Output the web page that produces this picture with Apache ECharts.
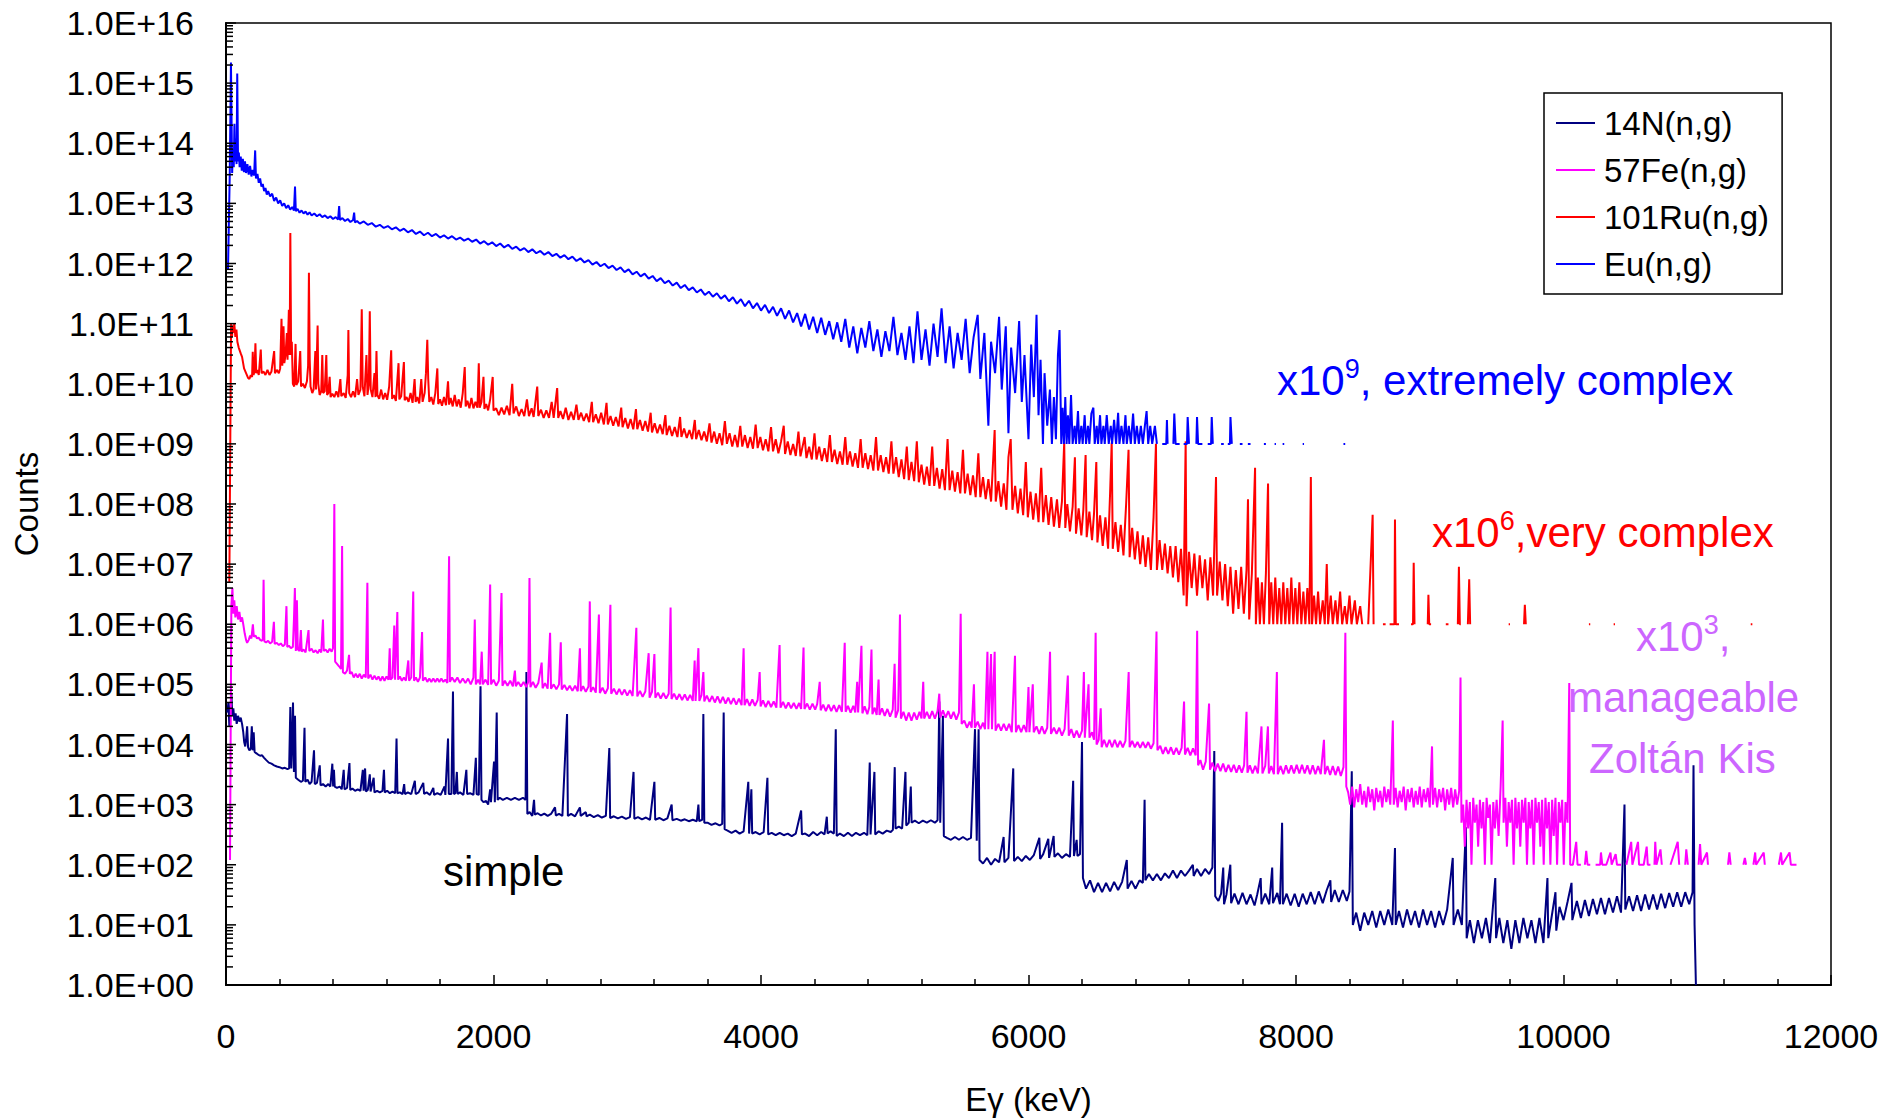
<!DOCTYPE html>
<html><head><meta charset="utf-8">
<script src="https://cdn.jsdelivr.net/npm/echarts@6/dist/echarts.min.js"></script>
<style>html,body{margin:0;padding:0;background:#fff}#c{width:1885px;height:1120px}</style>
</head><body><div id="c"></div>
<script>
const seriesNames = ['14N(n,g)', '57Fe(n,g)', '101Ru(n,g)', 'Eu(n,g)'];
const seriesColors = ['#000080', '#ff00ff', '#ff0000', '#0000ff'];
const xTickLabels = ['0', '2000', '4000', '6000', '8000', '10000', '12000'];
const yTickValues = [1e0,1e1,1e2,1e3,1e4,1e5,1e6,1e7,1e8,1e9,1e10,1e11,1e12,1e13,1e14,1e15,1e16];
const yTickLabels = ['1.0E+00','1.0E+01','1.0E+02','1.0E+03','1.0E+04','1.0E+05','1.0E+06','1.0E+07','1.0E+08','1.0E+09','1.0E+10','1.0E+11','1.0E+12','1.0E+13','1.0E+14','1.0E+15','1.0E+16'];
const logMinorMultipliers = [2, 3, 4, 5, 6, 7, 8, 9];

// Eu(n,g) x1e9  [energy keV, counts]
const euSpectrum = [
[15,8e11],[28,3e13],[37,2.2e15],[46,3.2e13],[52,8e13],[58,4e13],[63,2.1e14],[68,5e13],[74,1.2e14],[79,4.5e13],[84,1.45e15],[90,5e13],[96,7e13],[102,4e13],[110,6e13],[118,3.5e13],[126,5.5e13],[134,3.3e13],[142,5e13],[150,3.2e13],[160,4.5e13],[170,3e13],[180,4.2e13],[190,2.8e13],[200,3.6e13],[210,2.9e13],[218,7.6e13],[224,2.6e13],[235,3.1e13],[245,2.2e13],[255,2.6e13],[265,1.9e13],[275,2.1e13],[285,1.6e13],[295,1.8e13],[305,1.4e13],[315,1.6e13],[330,1.3e13],[345,1.45e13],[360,1.1e13],[375,1.25e13],[390,1e13],[405,1.12e13],[420,9.1e12],[435,1e13],[450,8.3e12],[465,9.3e12],[480,7.9e12],[495,8.7e12],[508,7.6e12],[516,1.9e13],[522,7.4e12],[535,8.1e12],[550,7e12],[565,7.6e12],[580,6.8e12],[595,7.3e12],[610,6.5e12],[625,7.1e12],[640,6.3e12],[660,6.8e12],[680,6.1e12],[700,6.6e12],[720,5.9e12],[740,6.3e12],[760,5.7e12],[780,6.1e12],[800,5.5e12],[820,5.9e12],[838,5.4e12],[846,9e12],[852,5.3e12],[870,5.7e12],[890,5.1e12],[910,5.5e12],[930,4.9e12],[950,5.3e12],[958,7e12],[964,4.8e12],[980,5.1e12],[1000,4.6e12],[1030,5e12],[1060,4.4e12],[1090,4.7e12],[1120,4.1e12],[1150,4.4e12],[1180,3.9e12],[1210,4.2e12],[1240,3.7e12],[1270,4e12],[1300,3.5e12],[1330,3.8e12],[1360,3.3e12],[1390,3.6e12],[1420,3.1e12],[1450,3.4e12],[1480,2.95e12],[1510,3.25e12],[1540,2.85e12],[1570,3.1e12],[1600,2.7e12],[1630,2.95e12],[1660,2.6e12],[1690,2.85e12],[1720,2.5e12],[1750,2.7e12],[1780,2.4e12],[1810,2.6e12],[1840,2.3e12],[1870,2.5e12],[1900,2.15e12],[1930,2.35e12],[1960,2.05e12],[1990,2.25e12],[2020,1.95e12],[2050,2.15e12],[2080,1.85e12],[2110,2.05e12],[2140,1.75e12],[2170,1.9e12],[2200,1.65e12],[2230,1.8e12],[2260,1.55e12],[2290,1.72e12],[2320,1.48e12],[2350,1.62e12],[2380,1.4e12],[2410,1.55e12],[2440,1.33e12],[2470,1.45e12],[2500,1.25e12],[2530,1.38e12],[2560,1.18e12],[2590,1.3e12],[2620,1.1e12],[2650,1.22e12],[2680,1.04e12],[2710,1.14e12],[2740,9.6e11],[2770,1.06e12],[2800,9e11],[2830,9.9e11],[2860,8.4e11],[2890,9.2e11],[2920,7.8e11],[2950,8.6e11],[2980,7.2e11],[3010,8e11],[3040,6.6e11],[3070,7.3e11],[3100,6.1e11],[3130,6.8e11],[3160,5.6e11],[3190,6.2e11],[3220,5.1e11],[3250,5.7e11],[3280,4.7e11],[3310,5.2e11],[3340,4.3e11],[3370,4.8e11],[3400,3.9e11],[3430,4.4e11],[3460,3.6e11],[3490,4e11],[3520,3.3e11],[3550,3.7e11],[3580,3e11],[3610,3.4e11],[3640,2.8e11],[3670,3.2e11],[3700,2.6e11],[3730,2.95e11],[3760,2.35e11],[3790,2.75e11],[3820,2.15e11],[3850,2.55e11],[3880,1.95e11],[3910,2.4e11],[3940,1.8e11],[3970,2.2e11],[4000,1.65e11],[4030,2.05e11],[4060,1.5e11],[4090,1.9e11],[4120,1.35e11],[4150,1.8e11],[4180,1.2e11],[4210,1.65e11],[4240,1.05e11],[4270,1.5e11],[4300,9e10],[4330,1.45e11],[4360,8e10],[4390,1.3e11],[4420,7e10],[4450,1.25e11],[4480,6.5e10],[4510,1.1e11],[4540,5.5e10],[4570,1.05e11],[4600,5e10],[4630,1.2e11],[4660,4e10],[4690,9e10],[4720,3.2e10],[4750,8.5e10],[4780,4e10],[4810,1.1e11],[4840,3.5e10],[4870,8e10],[4900,2.8e10],[4930,7.5e10],[4960,3.5e10],[4990,1.3e11],[5020,3e10],[5050,7e10],[5080,2.5e10],[5110,9e10],[5140,2.2e10],[5170,1.6e11],[5200,2.5e10],[5230,8e10],[5260,2e10],[5290,1e11],[5320,2.8e10],[5350,1.8e11],[5380,2.2e10],[5410,9e10],[5440,1.8e10],[5470,7e10],[5500,2.5e10],[5530,1.2e11],[5560,1.5e10],[5590,6e10],[5620,1.4e11],[5640,1.2e10],[5670,7e10],[5700,2e9],[5720,5e10],[5750,1.5e10],[5780,1.3e11],[5800,8e9],[5830,9e10],[5850,1.5e9],[5870,4e10],[5900,7e9],[5930,1.1e11],[5950,5e9],[5970,3e10],[6000,1.2e9],[6020,4.5e10],[6040,6e9],[6060,1.4e11],[6075,3e9],[6090,2.5e10],[6108,1e9],[6120,1.5e10],[6140,2e9],[6160,8e9],[6175,1e9],[6190,6e9],[6205,1.2e9],[6220,3e10],[6232,7.8e10],[6245,1e9],
[6255,4e9],[6265,1e9],[6275,6e9],[6285,1e9],[6295,3e9],[6305,1e9],[6318,6.5e9],[6330,1e9],[6345,2e9],[6355,1e9],[6370,3.5e9],[6380,1e9],[6395,2e9],[6405,1e9],[6420,3e9],[6430,1e9],[6445,2e9],[6455,1e9],[6470,3.2e9],[6485,4e9],[6495,1e9],[6510,2e9],[6520,1e9],[6535,3e9],[6545,1e9],[6560,2e9],[6570,1e9],[6585,3e9],[6600,1e9],[6615,2e9],[6625,1e9],[6640,2.5e9],[6655,1e9],[6670,3.3e9],[6680,1e9],[6695,2e9],[6710,1e9],[6725,3e9],[6735,1e9],[6750,2e9],[6765,1e9],[6782,3.2e9],[6795,1e9],[6810,2e9],[6825,1e9],[6840,2e9],[6855,1e9],[6870,2e9],[6883,3.5e9],[6895,1e9],[6910,2e9],[6925,1e9],[6945,2e9],[6960,1e9],
[6975,null],[7000,1e9],[7030,1e9],[7035,2.5e9],[7040,1e9],[7060,null],[7083,1e9],[7090,3.2e9],[7100,1e9],[7130,1e9],[7140,null],[7160,1e9],[7185,1e9],[7190,2.8e9],[7200,1e9],[7230,null],[7255,1e9],[7260,2.8e9],[7268,1e9],[7300,1e9],[7310,null],[7340,1e9],[7365,1e9],[7370,2.8e9],[7378,1e9],[7400,null],[7440,1e9],[7460,1e9],[7470,null],[7490,1e9],[7506,1e9],[7510,2.8e9],[7520,1e9],[7535,null],[7580,1e9],[7600,1e9],[7610,null],[7640,1e9],[7660,1e9],[7670,null],[7760,1e9],[7775,1e9],[7785,null],[7840,1e9],[7850,1e9],[7860,null],[7900,1e9],[7912,1e9],[7920,null],[8050,1e9],[8060,1e9],[8070,null],[8355,1e9],[8368,1e9]
];

// 101Ru(n,g) x1e6
const ru101Spectrum = [
[25,5e6],[38,1e11],[45,6e10],[50,9.3e10],[56,7e10],[62,1e11],[70,6e10],[78,8e10],[85,5e10],[95,4e10],[110,3.2e10],[120,2.8e10],[135,1.8e10],[150,1.5e10],[165,1.25e10],[175,1.2e10],[185,1.4e10],[195,1.3e10],[200,3.4e10],[206,1.4e10],[213,1.6e10],[220,4.7e10],[226,1.5e10],[235,1.7e10],[245,1.4e10],[260,3.7e10],[266,1.5e10],[280,1.6e10],[295,1.4e10],[310,1.7e10],[325,1.4e10],[340,1.6e10],[360,3.5e10],[366,1.5e10],[380,1.7e10],[395,1.5e10],[405,1.8e10],[415,1.2e11],[421,2e10],[430,9e10],[436,2.2e10],[445,3e10],[455,7e10],[460,2.5e10],[470,1.7e11],[476,3e10],[481,3.2e12],[487,3e10],[492,5e10],[500,1e10],[510,9e9],[520,4.6e10],[526,9.5e9],[540,1.1e10],[555,3.5e10],[561,9e9],[575,1e10],[590,8.5e9],[605,1.1e10],[614,2e10],[620,7e11],[626,2.5e10],[632,9e9],[645,7e9],[655,8e9],[668,3.5e10],[673,8e9],[685,9.3e10],[690,1e10],[700,6.5e9],[712,7.5e9],[720,3e10],[726,7e9],[738,7.5e9],[750,3e10],[756,6.5e9],[765,7e9],[775,1.3e10],[782,6e9],[795,6.8e9],
[810,6e9],[825,7.5e9],[840,6e9],[855,1.2e10],[862,6.2e9],[880,7e9],[895,5.8e9],[910,1.4e10],[915,7.8e10],[921,7e9],[935,6e9],[950,7.5e9],[965,6e9],[980,1.2e10],[990,6.5e9],[1005,8e9],[1015,1.74e11],[1022,9e9],[1035,6.2e9],[1050,3e10],[1058,6.5e9],[1068,1e10],[1075,1.6e11],[1082,8e9],[1095,6e9],[1110,1.5e10],[1118,6e9],[1125,3.5e10],[1132,6.5e9],[1145,5.6e9],[1160,8e9],[1175,5.5e9],[1190,7e9],[1205,5.4e9],[1220,9e9],[1235,3.6e10],[1242,5.6e9],[1255,6.5e9],[1270,5.2e9],[1290,2.2e10],[1296,5.5e9],[1310,6.2e9],[1330,2.3e10],[1336,5.3e9],[1350,6e9],[1365,5e9],[1380,7e9],[1395,4.8e9],[1410,1.2e10],[1418,5e9],[1430,6e9],[1445,4.7e9],[1460,1.2e10],[1470,5e9],[1485,7e9],[1495,1.5e10],[1505,5.4e10],[1512,1.2e10],[1520,5e9],[1535,6e9],[1550,4.5e9],[1565,7e9],[1580,1.8e10],[1587,4.6e9],[1600,5.5e9],[1615,4.3e9],[1630,6e9],[1645,4.4e9],[1660,1.1e10],[1668,4.5e9],[1680,5.8e9],[1695,4.2e9],[1710,6.5e9],[1725,4.2e9],[1740,5.5e9],[1755,4e9],[1770,7e9],[1785,1.9e10],[1792,4.2e9],[1805,5.2e9],[1820,3.9e9],[1835,5.8e9],[1850,3.9e9],[1865,5e9],[1880,4e9],[1890,2.2e10],[1897,4e9],[1910,5e9],[1925,1.3e10],[1932,3.8e9],[1945,4.6e9],[1960,3.6e9],[1975,5.5e9],[1994,1.3e10],[2000,3.6e9],
[2020,3.9e9],[2040,3e9],[2060,4e9],[2080,3.1e9],[2100,4.3e9],[2120,3e9],[2140,1e10],[2150,3.2e9],[2170,4.2e9],[2190,2.9e9],[2210,3.8e9],[2230,2.9e9],[2250,5.5e9],[2265,2.9e9],[2285,3.9e9],[2300,2.8e9],[2327,9e9],[2335,2.9e9],[2355,3.7e9],[2375,2.7e9],[2395,3.6e9],[2415,2.7e9],[2435,5e9],[2450,2.7e9],[2476,8.5e9],[2484,2.7e9],[2500,3.5e9],[2520,2.6e9],[2540,4e9],[2560,2.5e9],[2580,3.4e9],[2600,2.5e9],[2620,4.5e9],[2635,2.5e9],[2655,3.3e9],[2675,2.4e9],[2695,3.2e9],[2715,2.3e9],[2735,5e9],[2745,2.3e9],[2765,3.1e9],[2785,2.2e9],[2805,3.3e9],[2825,2.1e9],[2845,4.8e9],[2855,2.1e9],[2875,2.9e9],[2895,2e9],[2915,2.8e9],[2935,1.95e9],[2955,4e9],[2965,1.9e9],[2985,2.7e9],[3005,1.8e9],[3025,2.6e9],[3045,1.75e9],[3065,3.8e9],[3075,1.75e9],[3095,2.5e9],[3115,1.65e9],[3135,2.4e9],[3155,1.6e9],[3175,3.3e9],[3185,1.55e9],[3205,2.2e9],[3225,1.5e9],[3245,2.1e9],[3265,1.45e9],[3285,3e9],[3295,1.4e9],[3315,2e9],[3335,1.35e9],[3355,1.9e9],[3375,1.3e9],[3395,2.8e9],[3405,1.3e9],[3425,1.8e9],[3445,1.25e9],[3465,1.7e9],[3485,1.2e9],[3505,2.5e9],[3515,1.2e9],[3535,1.7e9],[3555,1.15e9],[3575,1.6e9],[3595,1.1e9],
[3615,2.2e9],[3630,1.05e9],[3650,1.6e9],[3670,1e9],[3690,1.5e9],[3710,9.5e8],[3730,2.4e9],[3745,1e9],[3765,1.5e9],[3785,9e8],[3805,1.4e9],[3825,8.8e8],[3845,2e9],[3860,9e8],[3880,1.4e9],[3900,8.5e8],[3920,1.3e9],[3940,8.3e8],[3960,2.1e9],[3975,8.5e8],[3995,1.3e9],[4015,7.8e8],[4035,1.2e9],[4055,7.5e8],[4075,1.9e9],[4090,7.5e8],[4110,1.2e9],[4130,7e8],[4150,1.1e9],[4170,2e9],[4180,6.8e8],[4200,1.1e9],[4220,6.5e8],[4240,1e9],[4260,6.3e8],[4280,1.6e9],[4295,6.2e8],[4315,1e9],[4326,1.3e9],[4340,5.8e8],[4360,9e8],[4380,5.5e8],[4400,1.5e9],[4415,5.5e8],[4435,9e8],[4455,5.2e8],[4475,8.5e8],[4495,5e8],[4515,1.4e9],[4530,5e8],[4550,8e8],[4570,4.6e8],[4590,7.5e8],[4610,4.5e8],[4630,1.3e9],[4645,4.5e8],[4665,7.5e8],[4685,4.2e8],[4705,7e8],[4725,4e8],[4745,1.2e9],[4760,4e8],[4780,7e8],[4800,3.8e8],[4820,6.5e8],[4840,3.6e8],[4860,1.3e9],[4875,3.6e8],[4895,6.5e8],[4915,3.4e8],[4935,6e8],[4955,3.2e8],[4975,1.1e9],[4990,3.2e8],
[5010,6e8],[5030,2.8e8],[5050,5.5e8],[5070,2.6e8],[5090,9e8],[5105,2.5e8],[5125,5e8],[5145,2.4e8],[5165,1.1e9],[5180,2.3e8],[5200,4.5e8],[5220,2.1e8],[5240,4.2e8],[5260,2e8],[5280,9e8],[5295,2e8],[5315,4e8],[5335,1.8e8],[5355,3.8e8],[5375,1.7e8],[5395,1.2e9],[5410,1.7e8],[5430,3.6e8],[5450,1.6e8],[5470,3.4e8],[5490,1.5e8],[5510,8e8],[5525,1.5e8],[5545,3.2e8],[5565,1.4e8],[5585,3e8],[5605,1.3e8],[5625,7e8],[5640,1.3e8],[5660,2.8e8],[5680,1.2e8],[5700,2.6e8],[5720,1.1e8],[5747,1.7e9],[5755,1.1e8],[5775,2.4e8],[5795,9e7],[5815,2.2e8],[5835,8e7],[5850,6e8],[5867,1.2e9],[5880,8e7],[5900,2e8],[5920,7e7],[5940,1.8e8],[5960,6.5e7],[5980,5e8],[5995,6e7],[6015,1.6e8],[6035,5.5e7],[6055,1.5e8],[6075,5e7],[6095,4e8],[6110,5e7],[6130,1.4e8],[6150,4.5e7],[6170,1.3e8],[6190,4.2e7],[6213,1.2e8],[6230,4e7],[6250,1.1e8],[6267,1.05e9],[6275,4e7],
[6290,1e8],[6310,3.5e7],[6330,9e7],[6347,6e8],[6355,3.2e7],[6375,8.5e7],[6395,3e7],[6410,8e7],[6427,6.5e8],[6435,2.8e7],[6455,7.5e7],[6475,2.5e7],[6490,7e7],[6507,5e8],[6515,2.3e7],[6535,6.5e7],[6555,2e7],[6575,6e7],[6595,1.8e7],[6610,1.5e8],[6622,1.05e9],[6630,1.8e7],[6650,5e7],[6670,1.6e7],[6690,4.5e7],[6710,1.4e7],[6730,1e8],[6748,8e8],[6756,1.3e7],[6775,4e7],[6795,1.2e7],[6815,3.5e7],[6835,1e7],[6855,3e7],[6875,9e6],[6895,2.8e7],[6915,8e6],[6935,6e7],[6953,1e9],[6960,8e6],[6980,2.5e7],[7000,8e6],[7020,2.2e7],[7040,7e6],[7060,2e7],[7080,6e6],[7100,2e7],[7120,5e6],[7140,1.8e7],[7160,3e6],[7175,1.1e9],[7182,2e6],[7200,1.6e7],
[7220,4e6],[7240,1.5e7],[7260,3e6],[7280,1.4e7],[7300,4e6],[7320,1.2e7],[7340,2.5e6],[7360,1.3e7],[7380,3e6],[7402,2.8e8],[7410,3e6],[7430,1.1e7],[7450,2.5e6],[7470,1e7],[7490,2e6],[7510,9e6],[7530,1.5e6],[7550,8e6],[7570,1.8e6],[7590,9e6],[7610,1.5e6],[7630,8e6],[7641,1.2e8],[7650,1.2e6],[7670,7e6],[7694,4e8],[7700,1e6],
[7715,6e6],[7730,1e6],[7745,5e6],[7760,1e6],[7775,7e6],[7791,2.2e8],[7800,1e6],[7815,5e6],[7830,1e6],[7845,6e6],[7860,1e6],[7875,4e6],[7890,1e6],[7905,5e6],[7920,1e6],[7935,4e6],[7950,1e6],[7965,6e6],[7980,1e6],[7995,4e6],[8010,1e6],[8025,5e6],[8040,1e6],[8055,3.5e6],[8070,1e6],[8085,4e6],[8100,1e6],[8111,2.8e8],[8120,1e6],
[8135,3e6],[8150,1e6],[8165,3.5e6],[8180,1e6],[8200,2.5e6],[8215,1e6],[8230,1e7],[8240,1e6],[8260,3e6],[8275,1e6],[8295,2.5e6],[8310,1e6],[8330,3.5e6],[8345,1e6],[8365,2e6],[8380,1e6],[8400,3e6],[8415,1e6],[8440,2.5e6],[8455,1e6],[8480,2e6],[8495,1e6],[8520,null],[8540,1e6],[8573,6.6e7],[8580,1e6],[8600,null],
[8650,1e6],[8670,1e6],[8680,null],[8700,1e6],[8736,1e6],[8740,5.5e7],[8746,1e6],[8770,1e6],[8780,null],[8860,1e6],[8875,1e6],[8880,1.05e7],[8886,1e6],[8900,null],[8985,1e6],[8990,3.1e6],[8996,1e6],[9010,1e6],[9020,null],[9120,1e6],[9140,1e6],[9150,null],[9210,1e6],[9218,9e6],[9225,1e6],[9232,1e6],[9240,null],[9285,1e6],[9295,5.6e6],[9302,1e6],[9310,null],[9590,1e6],[9600,1e6],[9610,null],[9705,1e6],[9711,2.1e6],[9718,1e6],[9725,null],[10190,1e6],[10200,1e6],[10210,null],[10375,1e6],[10385,1e6],[10395,null],[11400,1e6],[11412,1e6]
];

// 57Fe(n,g) x1e3
const fe57Spectrum = [
[30,1.2e2],[40,2e6],[48,4e6],[55,1.5e6],[62,2.5e6],[70,1.3e6],[80,2e6],[90,1.2e6],[100,1.6e6],[110,1.1e6],[120,1.3e6],[129,1e6],[140,7e5],[150,5.5e5],[158,4.9e5],[170,5.5e5],[180,6.5e5],[190,5.8e5],[201,1e6],[208,6.2e5],[220,6.5e5],[232,5.8e5],[244,6e5],[255,5.5e5],[268,5.3e5],[275,5.6e5],[281,5.5e6],[287,5.2e5],[300,5e5],[315,5.3e5],[330,4.8e5],[345,5.1e5],[358,1.1e6],[364,4.7e5],[380,4.9e5],[395,4.5e5],[410,4.8e5],[425,4.3e5],[440,4.6e5],[452,2e6],[458,4.2e5],[470,4.4e5],[485,4e5],[500,4.2e5],[508,1.2e6],[515,4e6],[522,3.6e5],[530,2.5e6],[537,3.8e5],[550,3.6e5],[560,8e5],[566,3.5e5],[580,3.8e5],[595,3.4e5],[617,8e5],[623,3.6e5],[640,3.9e5],[655,3.4e5],[670,3.7e5],[685,3.3e5],[700,3.8e5],[712,3.4e5],[725,1.2e6],[731,3.6e5],[745,3.8e5],[760,3.4e5],[775,3.9e5],[790,3.5e5],[800,4e5],[810,1e8],[816,2.4e5],[830,2.2e5],[845,2e5],[860,1.8e5],[868,2e7],[874,1.6e5],[890,1.5e5],[905,1.7e5],[920,3.1e5],[926,1.5e5],[940,1.6e5],[955,1.3e5],[970,1.5e5],[985,1.3e5],[1000,1.5e5],[1015,1.25e5],[1030,1.45e5],[1045,1.3e5],[1057,4.9e6],[1063,1.25e5],[1080,1.45e5],[1095,1.2e5],[1110,1.4e5],[1125,1.2e5],[1140,1.35e5],[1155,1.15e5],[1170,1.35e5],[1185,1.15e5],[1200,1.35e5],[1215,1.2e5],[1224,4e5],[1230,1.2e5],[1245,1.3e5],[1258,9.5e5],[1264,1.2e5],[1281,1.6e6],[1287,1.2e5],[1300,1.35e5],[1315,1.15e5],[1330,1.3e5],[1345,1.15e5],[1363,2.5e5],[1369,1.15e5],[1385,1.3e5],[1400,3.5e6],[1406,1.15e5],[1420,1.3e5],[1435,1.1e5],[1450,1.3e5],[1466,7.4e5],[1472,1.15e5],[1490,1.3e5],[1505,1.1e5],[1520,1.25e5],[1535,1.1e5],[1550,1.25e5],[1565,1.1e5],[1580,1.25e5],[1595,1.1e5],[1610,1.25e5],[1625,1.1e5],[1640,1.2e5],[1655,1.05e5],[1668,1.35e7],[1674,1.1e5],
[1690,1.3e5],[1710,1.1e5],[1730,1.3e5],[1750,1.05e5],[1770,1.25e5],[1790,1.05e5],[1810,1.25e5],[1830,1e5],[1850,1.3e5],[1860,1.2e6],[1868,1e5],[1885,1.2e5],[1900,1e5],[1912,3.5e5],[1920,1e5],[1940,1.2e5],[1960,9.8e4],[1975,4.6e6],[1982,1e5],[2000,1.2e5],[2020,9.5e4],[2040,1.15e5],[2060,3.3e6],[2067,9.5e4],[2085,1.15e5],[2105,9.5e4],[2125,1.15e5],[2145,9.3e4],[2160,1.7e5],[2167,9.3e4],[2185,1.1e5],[2205,9.2e4],[2225,1.1e5],[2245,9e4],[2260,1.1e5],[2269,5.9e6],[2276,9e4],[2295,1.1e5],[2315,8.8e4],[2335,1.05e5],[2360,2.3e5],[2367,8.6e4],[2385,1.05e5],[2405,8.5e4],[2423,7.2e5],[2430,8.5e4],[2450,1e5],[2470,8.3e4],[2490,1e5],[2503,5e5],[2510,8.2e4],[2530,9.8e4],[2550,8e4],[2570,9.5e4],[2590,7.8e4],[2610,9.5e4],[2630,7.7e4],[2646,4e5],[2653,7.7e4],[2670,9.3e4],[2690,7.5e4],[2710,9.2e4],[2720,2.4e6],[2727,7.5e4],[2745,9e4],[2765,7.3e4],[2788,1.45e6],[2795,7.2e4],[2815,8.8e4],[2835,7e4],[2855,8.6e4],[2874,2.1e6],[2880,7e4],[2900,8.5e4],[2920,6.8e4],[2940,8.4e4],[2960,6.7e4],[2980,8.2e4],[3000,6.5e4],[3020,8e4],[3040,6.4e4],[3068,8.7e5],[3075,6.3e4],[3095,7.8e4],[3115,6.2e4],[3135,7.6e4],[3160,3.3e5],[3167,6e4],[3185,7.5e4],[3203,3.2e5],[3210,6e4],[3230,7.3e4],[3250,5.8e4],[3270,7.2e4],[3290,5.8e4],[3310,7e4],[3324,1.9e6],[3331,5.7e4],[3350,7e4],[3370,5.6e4],[3390,6.9e4],[3410,5.5e4],[3430,6.8e4],[3450,5.4e4],[3470,6.7e4],[3490,5.3e4],[3504,2.5e5],[3511,5.3e4],[3532,4e5],[3539,5.3e4],[3555,6.6e4],[3569,1.6e5],[3576,5.2e4],[3595,6.5e4],[3615,5.1e4],[3635,6.4e4],[3655,5e4],[3675,6.3e4],[3695,4.9e4],[3715,6.2e4],[3735,4.8e4],[3755,6e4],[3775,4.7e4],[3795,5.9e4],[3815,4.6e4],[3835,5.8e4],[3855,4.5e4],[3870,4e5],[3877,4.5e4],[3895,5.7e4],[3915,4.4e4],[3935,5.6e4],[3955,4.4e4],[3975,5.5e4],[3990,1.6e5],[3997,4.3e4],[4015,5.4e4],[4035,4.2e4],[4055,5.3e4],[4075,4.2e4],[4095,5.2e4],[4115,4.1e4],[4139,4.5e5],[4146,4.1e4],[4165,5.1e4],[4185,4e4],[4205,5e4],[4225,4e4],[4245,4.9e4],[4265,3.9e4],[4285,4.9e4],[4300,3.9e4],[4318,4.1e5],[4325,3.9e4],[4345,4.8e4],[4365,3.8e4],[4385,4.8e4],[4405,3.8e4],[4420,4.7e4],[4439,1.1e5],[4446,3.7e4],
[4465,4.6e4],[4485,3.6e4],[4505,4.6e4],[4525,3.6e4],[4545,4.5e4],[4565,3.5e4],[4585,4.5e4],[4605,3.5e4],[4626,4.9e5],[4633,3.5e4],[4650,4.4e4],[4670,3.4e4],[4690,4.4e4],[4705,3.4e4],[4719,1.1e5],[4726,3.4e4],[4751,4.4e5],[4758,3.3e4],[4775,4.3e4],[4795,3.2e4],[4810,4.2e4],[4826,3.8e5],[4833,3.2e4],[4850,4.1e4],[4865,3.1e4],[4879,1.2e5],[4886,3.1e4],[4905,4e4],[4925,3e4],[4945,3.9e4],[4965,2.9e4],[4985,3.8e4],[4999,2.2e5],[5006,2.8e4],[5025,3.7e4],[5039,1.45e6],[5046,2.7e4],[5065,3.5e4],[5085,2.5e4],[5105,3.4e4],[5125,2.5e4],[5145,3.4e4],[5165,2.6e4],[5185,3.5e4],[5200,2.7e4],[5213,1.1e5],[5220,2.7e4],[5240,3.5e4],[5260,2.7e4],[5280,3.6e4],[5300,2.7e4],[5320,3.6e4],[5333,7e4],[5340,2.8e4],[5360,3.7e4],[5380,2.8e4],[5400,3.6e4],[5420,2.7e4],[5440,3.5e4],[5460,2.6e4],[5480,3.4e4],[5493,1.5e6],[5500,2.2e4],
[5520,2.5e4],[5540,1.9e4],[5560,2.4e4],[5575,1.9e4],[5592,1e5],[5599,1.9e4],[5620,2.4e4],[5640,1.8e4],[5660,2.3e4],[5675,1.8e4],[5693,3.5e5],[5700,1.8e4],[5720,3.2e5],[5727,1.8e4],[5747,3.5e5],[5754,1.7e4],[5775,2.2e4],[5795,1.7e4],[5815,2.2e4],[5835,1.7e4],[5855,2.2e4],[5875,1.6e4],[5899,3e5],[5906,1.6e4],[5925,2.1e4],[5945,1.6e4],[5965,2.1e4],[5985,1.6e4],[6000,9e4],[6007,1.6e4],[6032,1e5],[6039,1.6e4],[6060,2e4],[6080,1.5e4],[6100,2e4],[6120,1.5e4],[6140,1.9e4],[6161,3.5e5],[6168,1.5e4],[6190,1.9e4],[6210,1.5e4],[6230,1.9e4],[6250,1.4e4],[6270,1.8e4],[6294,1.4e5],[6301,1.4e4],[6320,1.8e4],[6340,1.3e4],[6360,1.7e4],[6380,1.3e4],[6400,1.7e4],[6414,1.6e5],[6421,1.3e4],[6449,1e5],[6456,1.3e4],[6475,1.6e4],[6490,1.2e4],[6502,7.2e5],[6509,1e4],[6525,1.2e4],[6540,4e4],[6547,9e3],[6565,1.2e4],[6585,9e3],[6605,1.2e4],[6625,9e3],[6645,1.2e4],[6665,9e3],[6685,1.15e4],[6705,9e3],[6725,1.15e4],[6749,1.6e5],[6756,9e3],[6775,1.15e4],[6795,9e3],[6815,1.1e4],[6835,8.8e3],[6855,1.1e4],[6875,8.8e3],[6895,1.1e4],[6915,8.5e3],[6935,1.05e4],[6957,7.6e5],[6964,8e3],[6985,9.5e3],[7005,7e3],[7025,9e3],[7045,7e3],[7065,9e3],[7085,6.8e3],[7105,8.8e3],[7125,6.8e3],[7145,8.8e3],[7163,5.2e4],[7170,6.8e3],[7190,8.8e3],[7210,6.6e3],[7230,8.6e3],[7250,6.6e3],[7261,7.8e5],[7268,4.5e3],
[7285,5.5e3],[7305,3.8e3],[7325,5.2e3],[7350,4.8e4],[7357,3.8e3],[7375,5e3],[7395,3.6e3],[7415,4.8e3],[7435,3.6e3],[7455,4.8e3],[7475,3.5e3],[7495,4.6e3],[7515,3.5e3],[7535,4.6e3],[7555,3.4e3],[7575,4.5e3],[7595,3.4e3],[7612,4.5e3],[7630,3.5e4],[7637,3.4e3],[7655,4.5e3],[7675,3.3e3],[7695,4.4e3],[7715,3.3e3],[7742,2e4],[7749,3.3e3],[7770,4.4e3],[7790,2e4],[7797,3.3e3],[7815,4.4e3],[7835,3.2e3],[7857,1.6e5],[7864,3.2e3],[7885,4.4e3],[7905,3.2e3],[7925,4.5e3],[7945,3.3e3],[7965,4.5e3],[7985,3.3e3],[8005,4.6e3],[8025,3.3e3],[8045,4.6e3],[8065,3.3e3],[8085,4.5e3],[8105,3.2e3],[8125,4.5e3],[8145,3.2e3],[8165,4.4e3],[8185,3.2e3],[8209,1.2e4],[8216,3.2e3],[8235,4.4e3],[8255,3.1e3],[8275,4.4e3],[8295,3.1e3],[8315,4.3e3],[8335,3e3],[8355,4.2e3],[8369,7.2e5],[8376,2e3],
[8390,1.6e3],[8405,1e3],[8420,2e3],[8435,9e2],[8450,1.8e3],[8465,1.1e3],[8480,2.2e3],[8495,1e3],[8510,1.7e3],[8525,9e2],[8540,2e3],[8555,1.1e3],[8570,1.8e3],[8585,8e2],[8600,1.9e3],[8615,1.1e3],[8630,1.7e3],[8645,9e2],[8660,2e3],[8675,1.1e3],[8690,1.8e3],[8705,1e3],[8724,2.5e4],[8731,1e3],[8745,1.9e3],[8760,9e2],[8775,1.7e3],[8790,1.1e3],[8805,2e3],[8820,8e2],[8835,1.8e3],[8850,1.1e3],[8865,1.9e3],[8880,9e2],[8895,1.7e3],[8910,1e3],[8925,2e3],[8940,9e2],[8955,1.8e3],[8970,1.1e3],[8985,1.9e3],[9000,9e2],[9017,9.3e3],[9024,1e3],[9040,1.9e3],[9055,9e2],[9070,1.8e3],[9085,1.1e3],[9100,1.9e3],[9115,8e2],[9130,1.8e3],[9145,1e3],[9160,1.9e3],[9175,9e2],[9190,1.8e3],[9205,1e3],[9220,1.7e3],[9230,1.3e5],[9237,5e2],
[9250,1e3],[9262,2e2],[9275,1.2e3],[9287,4e2],[9300,1.1e3],[9312,1e2],[9325,1.3e3],[9337,5e2],[9350,1e3],[9362,2e2],[9375,1.2e3],[9387,4e2],[9400,1.1e3],[9412,1e2],[9425,1.3e3],[9437,6e2],[9450,1e3],[9462,1e2],[9475,1.1e3],[9487,4e2],[9500,1.2e3],[9515,3e2],[9530,2e3],[9545,2.5e4],[9552,5e2],[9565,1.3e3],[9577,2e2],[9590,1.1e3],[9602,5e2],[9615,1.2e3],[9627,1e2],[9640,1.3e3],[9652,4e2],[9665,1.1e3],[9677,2e2],[9690,1.2e3],[9702,5e2],[9715,1.3e3],[9727,1e2],[9740,1.1e3],[9752,4e2],[9765,1.2e3],[9777,1e2],[9790,1.3e3],[9802,5e2],[9815,1.1e3],[9827,2e2],[9840,1.2e3],[9852,1e2],[9865,1.3e3],[9877,4e2],[9890,1.1e3],[9902,1e2],[9915,1.2e3],[9927,3e2],[9940,1.3e3],[9952,1e2],[9965,1.1e3],[9977,5e2],[9990,1.2e3],[10002,1e2],[10015,1.1e3],[10030,5e2],[10043,1.05e5],[10050,1e2],
[10070,1e2],[10095,2.4e2],[10105,1e2],[10130,1e2],[10145,null],[10160,1e2],[10170,1.7e2],[10180,1e2],[10200,1e2],[10215,null],[10240,1e2],[10274,1e2],[10280,1.6e2],[10290,1e2],[10320,1e2],[10351,1.6e2],[10360,1e2],[10390,1.5e2],[10400,1e2],[10430,1e2],[10445,null],[10470,1e2],[10506,2.4e2],[10515,1e2],[10557,2.4e2],[10565,1e2],[10600,1e2],[10622,2e2],[10630,1e2],[10650,1e2],[10665,null],[10680,1e2],[10686,2.4e2],[10695,1e2],[10725,1.8e2],[10735,1e2],[10760,null],[10800,1e2],[10854,2.4e2],[10865,1e2],[10890,null],[10910,1e2],[10918,1.8e2],[10930,1e2],[10960,null],[11010,1e2],[11021,2.2e2],[11030,1e2],[11073,1.6e2],[11080,1e2],[11100,null],[11230,1e2],[11240,1.6e2],[11250,1e2],[11265,null],[11345,1e2],[11356,1.3e2],[11365,1e2],[11380,null],[11420,1e2],[11433,1.6e2],[11440,1e2],[11497,1.6e2],[11505,1e2],[11520,null],[11610,1e2],[11626,1.6e2],[11635,1e2],[11690,1.6e2],[11700,1e2],[11742,1e2]
];

// 14N(n,g) x1
const n14Spectrum = [
[10,3.4e4],[18,5e4],[25,2e4],[32,3.5e4],[40,7e4],[47,3e4],[55,4e4],[62,2.5e4],[72,3.3e4],[80,2.2e4],[90,3e4],[100,2.4e4],[110,2.8e4],[120,2.2e4],[129,1.6e4],[136,1.1e4],[144,9.3e3],[150,1.2e4],[158,2e4],[165,9e3],[175,8e3],[185,8.5e3],[193,2e4],[200,8e3],[207,1.6e4],[214,7.5e3],[225,7.2e3],[240,6.8e3],[255,6.5e3],[270,6.6e3],[285,6e3],[301,5.5e3],[320,5e3],[340,4.8e3],[360,4.5e3],[380,4.3e3],[400,4.2e3],[420,4e3],[440,4.1e3],[460,3.9e3],[472,4e3],[481,4.2e4],[488,4e3],[495,1.2e4],[501,5e4],[508,3.5e3],[516,3e4],[522,2.8e3],[540,2.6e3],[560,2.4e3],[575,2.5e3],[587,1.9e4],[593,2.4e3],[610,2.6e3],[625,2.2e3],[640,2.4e3],[658,8e3],[664,2.2e3],[680,2.3e3],[701,4.5e3],[707,2.1e3],[725,2.2e3],[745,2e3],[765,2.2e3],[780,2e3],[795,4.8e3],[801,2e3],[807,3.8e3],[813,2e3],[830,1.9e3],[850,2e3],[865,1.8e3],[880,3.8e3],[886,1.8e3],[905,1.9e3],[923,4.9e3],[929,1.75e3],[945,1.85e3],[965,1.7e3],[985,1.8e3],[1005,1.7e3],[1023,3.8e3],[1029,1.7e3],[1040,4e3],[1046,1.65e3],[1060,1.75e3],[1075,3.2e3],[1081,1.65e3],[1104,2.8e3],[1110,1.6e3],[1130,1.7e3],[1150,1.6e3],[1170,1.7e3],[1181,3.8e3],[1187,1.6e3],[1205,1.7e3],[1225,1.55e3],[1245,1.65e3],[1265,1.55e3],[1275,1.26e4],[1282,1.55e3],[1300,1.6e3],[1320,1.5e3],[1332,2.2e3],[1338,1.5e3],[1360,1.6e3],[1385,1.5e3],[1412,2.5e3],[1418,1.5e3],[1440,1.6e3],[1475,2.3e3],[1481,1.5e3],[1500,1.6e3],[1525,1.45e3],[1550,1.9e3],[1556,1.45e3],[1580,1.55e3],[1605,1.45e3],[1634,2e3],[1640,1.45e3],[1660,1.26e4],[1666,1.5e3],[1685,1.5e3],[1697,7.6e4],[1704,1.5e3],[1715,1.55e3],[1726,3.5e3],[1732,1.5e3],[1750,1.6e3],[1775,1.45e3],[1797,3.8e3],[1803,1.5e3],[1825,1.55e3],[1850,1.45e3],[1868,6e3],[1874,1.5e3],[1890,1.45e3],[1903,9.3e4],[1910,1.2e3],[1925,1.1e3],[1945,1.15e3],[1960,1e3],[1975,1.8e3],[1981,1.1e3],[2004,5.2e3],[2010,1.1e3],[2024,3.4e4],[2031,1.2e3],[2047,1.3e3],[2070,1.2e3],[2100,1.3e3],[2130,1.2e3],[2160,1.3e3],[2190,1.2e3],[2220,1.3e3],[2240,1.2e3],[2246,1.6e5],[2253,7e2],[2270,7.5e2],[2290,6.5e2],[2303,1.2e3],[2309,6.8e2],[2330,7.2e2],[2355,6.6e2],[2380,7.1e2],[2405,6.5e2],[2430,7e2],[2460,9e2],[2466,6.6e2],[2490,7e2],[2515,6.5e2],[2550,3.2e4],[2556,6.5e2],[2580,7e2],[2610,6.4e2],[2646,9e2],[2652,6.5e2],[2690,7.5e2],[2696,6.4e2],[2720,6.8e2],[2750,6.2e2],[2780,6.7e2],[2810,6.1e2],[2840,6.5e2],[2866,8.7e3],[2872,6e2],[2900,6.4e2],[2930,5.9e2],[2960,6.3e2],[2990,5.8e2],[3020,6.2e2],[3047,3.5e3],[3053,5.8e2],[3080,6.2e2],[3110,5.7e2],[3140,6.1e2],[3170,5.6e2],[3203,2.4e3],[3209,5.6e2],[3240,6e2],[3270,5.5e2],[3300,5.9e2],[3332,1e3],[3338,5.5e2],[3370,5.8e2],[3400,5.4e2],[3430,5.7e2],[3460,5.3e2],[3490,5.6e2],[3520,5.3e2],[3532,1e3],[3538,5.3e2],[3560,5.6e2],[3569,3.2e4],[3576,5e2],[3600,5e2],[3630,4.6e2],[3660,4.9e2],[3690,4.5e2],[3710,4.8e2],[3721,3.4e4],[3728,3.9e2],[3750,3.7e2],[3780,3.4e2],[3810,3.7e2],[3840,3.3e2],[3870,3.6e2],[3905,2.4e3],[3911,3.3e2],[3928,1.8e3],[3934,3.3e2],[3960,3.5e2],[3990,3.2e2],[4020,3.5e2],[4048,2.8e3],[4054,3.2e2],[4080,3.4e2],[4110,3.1e2],[4140,3.4e2],[4170,3.1e2],[4200,3.3e2],[4230,3e2],[4260,3.3e2],[4300,8e2],[4306,3.2e2],[4330,3.3e2],[4360,3e2],
[4390,3.5e2],[4420,3.1e2],[4450,3.5e2],[4475,3.2e2],[4492,6.3e2],[4498,3.3e2],[4520,3.6e2],[4545,3.3e2],[4559,1.8e4],[4566,3e2],[4590,3.3e2],[4620,3e2],[4650,3.4e2],[4680,3e2],[4710,3.4e2],[4740,3.1e2],[4770,3.4e2],[4795,3.1e2],[4813,5e3],[4819,3.2e2],[4848,3.5e3],[4854,3.2e2],[4880,3.6e2],[4910,3.3e2],[4940,3.7e2],[4970,3.5e2],[4986,3.8e2],[5000,4.2e3],[5006,4e2],[5030,4.3e2],[5055,4e2],[5080,3.5e3],[5086,4.5e2],[5105,5e2],[5120,2e3],[5126,5e2],[5150,5.4e2],[5180,4.9e2],[5210,5.4e2],[5240,5e2],[5270,5.5e2],[5300,5e2],[5320,5.5e2],[5333,5.2e4],[5340,5e2],[5360,3e4],[5367,3e2],[5390,2.8e2],[5420,2.6e2],[5450,2.9e2],[5480,2.6e2],[5510,2.9e2],[5540,2.6e2],[5570,2.8e2],[5600,1.8e4],[5613,2.5e2],[5627,1.8e4],[5634,1.2e2],[5660,1.05e2],[5690,1.3e2],[5720,1e2],[5750,1.25e2],[5780,1.1e2],[5814,2.9e2],[5820,1.1e2],[5850,1.3e2],[5886,4e3],[5892,1.15e2],[5920,1.35e2],[5950,1.15e2],[5980,1.4e2],[6010,1.2e2],[6040,1.45e2],[6081,2.8e2],[6087,1.25e2],[6110,1.5e2],[6148,2.7e2],[6154,1.3e2],[6188,3e2],[6194,1.35e2],[6220,1.55e2],[6250,1.3e2],[6280,1.5e2],[6310,1.35e2],[6334,2.5e3],[6340,1.4e2],[6360,2.6e2],[6366,1.4e2],[6385,1.5e2],[6400,1.1e4],[6407,6e1],[6430,4e1],[6460,5.5e1],[6490,3.5e1],[6520,5e1],[6550,3.5e1],[6580,5e1],[6610,3.6e1],[6640,5.2e1],[6670,3.8e1],[6700,5.2e1],[6735,1.2e2],[6741,4e1],[6770,5.4e1],[6800,4e1],[6830,5.5e1],[6855,5e1],[6868,1.2e3],[6874,5.5e1],[6900,7e1],[6930,5.5e1],[6960,7e1],[6990,5.5e1],[7020,7.2e1],[7050,6e1],[7080,8e1],[7110,6e1],[7140,8e1],[7170,6.5e1],[7200,8e1],[7229,1e2],[7235,6.5e1],[7260,8.5e1],[7290,6.5e1],[7320,8.5e1],[7350,7e1],[7375,9e1],[7389,7.8e3],[7396,3e1],[7420,2.5e1],[7440,3.3e1],[7456,9e1],[7462,2.2e1],[7480,3.2e1],[7509,1e2],[7515,2.3e1],[7540,3.3e1],[7570,2.2e1],[7600,3.4e1],[7630,2.2e1],[7660,3.2e1],[7690,2.1e1],[7710,3.2e1],[7736,6e1],[7742,2.2e1],[7770,3.3e1],[7800,2.2e1],[7822,9e1],[7828,2.3e1],[7860,3.4e1],[7880,2.2e1],[7896,5e2],[7902,2.2e1],[7930,3.3e1],[7960,2.1e1],[7990,3.3e1],[8020,2e1],[8050,3.3e1],[8080,2.2e1],[8110,3.5e1],[8140,2.2e1],[8170,3.6e1],[8200,2.3e1],[8230,3.8e1],[8257,5.5e1],[8263,2.4e1],[8290,3.8e1],[8320,2.4e1],[8350,3.8e1],[8380,2.5e1],[8400,3.6e1],[8417,3.6e3],[8425,1e1],[8450,1.6e1],[8480,8],[8510,1.6e1],[8540,1e1],[8570,1.7e1],[8600,9],[8630,1.7e1],[8660,1e1],[8690,1.8e1],[8720,1e1],[8740,1.9e2],[8746,1e1],[8770,1.7e1],[8800,9],[8830,1.8e1],[8860,1e1],[8890,1.7e1],[8920,9],[8950,1.8e1],[8980,1e1],[9010,1.7e1],[9040,9],[9070,1.7e1],[9100,1e1],[9130,1.8e1],[9172,1.3e2],[9178,1e1],[9210,1.8e1],[9240,1e1],[9270,4.2e2],[9276,6],[9300,1.2e1],[9330,5],[9360,1.2e1],[9390,6],[9420,1.3e1],[9450,5],[9490,6e1],[9496,6],[9520,1.3e1],[9550,5],[9580,1.2e1],[9610,4],[9640,1.2e1],[9670,5],[9700,1.3e1],[9730,6],[9760,1.2e1],[9790,5],[9820,1.3e1],[9850,5],[9880,6e1],[9886,6],[9910,1.3e1],[9940,3.5e1],[9946,8],[9970,2e1],[10000,1.2e1],[10030,2.4e1],[10060,5e1],[10066,1.2e1],[10100,2.5e1],[10130,1.3e1],[10160,2.6e1],[10190,1.4e1],[10220,2.7e1],[10250,1.5e1],[10280,2.8e1],[10310,1.5e1],[10340,2.8e1],[10370,1.6e1],[10400,3e1],[10430,1.6e1],[10456,1e3],[10462,1.8e1],[10490,3e1],[10520,1.7e1],[10550,3.1e1],[10580,1.7e1],[10610,3.2e1],[10640,1.8e1],[10670,3.2e1],[10700,1.8e1],[10730,3.3e1],[10760,1.9e1],[10790,3.4e1],[10820,2e1],[10850,3.5e1],[10880,2e1],[10910,3.5e1],[10940,2.2e1],[10965,3.5e1],[10972,4.5e3],[10980,1e1],[10990,1]
];

const spectra = [n14Spectrum, fe57Spectrum, ru101Spectrum, euSpectrum];
const FONT = "'Liberation Sans', Arial, sans-serif";

// log-axis tick decoration (major ticks with labels, and 2..9 minor ticks)
const majorTickData = yTickValues.map((v, i) => [0, v, i]);
const minorTickData = [];
yTickValues.slice(0, -1).forEach(v => logMinorMultipliers.forEach(m => minorTickData.push([0, m * v])));

const chart = echarts.init(document.getElementById('c'), null, {renderer: 'svg'});

const lineSeries = seriesNames.map((name, i) => ({
  name: name,
  type: 'line',
  data: spectra[i],
  showSymbol: false,
  symbol: 'none',
  connectNulls: false,
  lineStyle: {color: seriesColors[i], width: 2},
  itemStyle: {color: seriesColors[i]},
  emphasis: {disabled: true},
  animation: false,
  z: 2 + i
}));

function supTitle(pre, sup, post, color, left, top) {
  return {
    text: '{a|' + pre + '}{s|' + sup + '}{a|' + post + '}',
    left: left, top: top, padding: 0,
    textStyle: {
      fontWeight: 'normal',
      rich: {
        a: {fontSize: 42, fontFamily: FONT, fontWeight: 'normal', color: color, lineHeight: 50},
        s: {fontSize: 27, fontFamily: FONT, fontWeight: 'normal', color: color, lineHeight: 30, verticalAlign: 'top'}
      }
    }
  };
}
function plainTitle(text, color, left, top) {
  return {
    text: text, left: left, top: top, padding: 0,
    textStyle: {fontSize: 42, fontFamily: FONT, color: color, fontWeight: 'normal', lineHeight: 50}
  };
}

const option = {
  animation: false,
  backgroundColor: '#ffffff',
  title: [
    supTitle('x10', '9', ', extremely complex', '#0000ff', 1277, 355),
    supTitle('x10', '6', ',very complex', '#ff0000', 1432, 507),
    supTitle('x10', '3', ',', '#cc66ff', 1636, 611),
    plainTitle('manageable', '#cc66ff', 1568, 672),
    plainTitle('Zoltán Kis', '#cc66ff', 1589, 733),
    plainTitle('simple', '#000000', 443, 846)
  ],
  grid: {left: 226, right: 54, top: 23, bottom: 135, show: true, borderColor: '#000', borderWidth: 1.5,
    backgroundColor: 'transparent', containLabel: false, outerBoundsMode: 'none'},
  legend: {
    orient: 'vertical', left: 1544, top: 93,
    padding: [12, 13, 12, 12],
    icon: 'rect',
    itemWidth: 39, itemHeight: 2, itemGap: 11,
    borderColor: '#000', borderWidth: 1.5, backgroundColor: '#fff',
    textStyle: {fontSize: 33, fontFamily: FONT, color: '#000', lineHeight: 36, padding: [0, 0, 0, 4]},
    data: seriesNames,
    selectedMode: false
  },
  xAxis: {
    type: 'value', min: 0, max: 12000, interval: 2000,
    name: 'Eγ (keV)', nameLocation: 'middle', nameGap: 98,
    nameTextStyle: {fontSize: 33, fontFamily: FONT, color: '#000'},
    axisLine: {show: true, onZero: false, lineStyle: {color: '#000', width: 2}},
    axisTick: {show: true, inside: true, length: 10, lineStyle: {color: '#000', width: 1.5}},
    minorTick: {show: true, splitNumber: 5, length: 6, lineStyle: {color: '#000', width: 1.5}},
    axisLabel: {fontSize: 34, fontFamily: FONT, color: '#000', margin: 34,
      formatter: v => xTickLabels[Math.round(v / 2000)] || String(v)},
    splitLine: {show: false}
  },
  yAxis: {
    type: 'log', logBase: 10, min: 1, max: 1e16,
    name: 'Counts', nameLocation: 'middle', nameGap: 183, nameRotate: 90,
    nameTextStyle: {fontSize: 33, fontFamily: FONT, color: '#000'},
    axisLine: {show: true, lineStyle: {color: '#000', width: 2}},
    axisTick: {show: false},
    axisLabel: {show: false},
    splitLine: {show: false}
  },
  series: lineSeries.concat([
    {
      name: 'yMajorTicks', type: 'custom', silent: true, z: 10, clip: false,
      data: majorTickData,
      renderItem: function (params, api) {
        const p = api.coord([0, api.value(1)]);
        return {type: 'group', children: [
          {type: 'line', shape: {x1: p[0], y1: p[1], x2: p[0] + 10, y2: p[1]}, style: {stroke: '#000', lineWidth: 1.5}},
          {type: 'text', x: p[0] - 32, y: p[1], style: {text: yTickLabels[api.value(2)], align: 'right', verticalAlign: 'middle', fontSize: 34, fontFamily: FONT, fill: '#000'}}
        ]};
      }
    },
    {
      name: 'yMinorTicks', type: 'custom', silent: true, z: 10, clip: false,
      data: minorTickData,
      renderItem: function (params, api) {
        const p = api.coord([0, api.value(1)]);
        return {type: 'line', shape: {x1: p[0], y1: p[1], x2: p[0] + 7, y2: p[1]},
          style: {stroke: '#000', lineWidth: 1.5}};
      }
    }
  ])
};
option.xAxis.minorTick.inside = true;
chart.setOption(option);
</script>
</body></html>
